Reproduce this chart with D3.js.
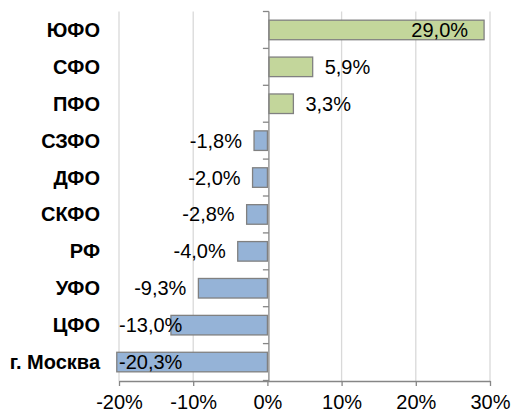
<!DOCTYPE html>
<html><head><meta charset="utf-8">
<script src="https://cdn.jsdelivr.net/npm/d3@7/dist/d3.min.js"></script>
<style>body{margin:0;background:#fff}svg{display:block}text{font-family:"Liberation Sans",Arial,sans-serif}</style>
</head><body><svg id="c" width="511" height="415"></svg>
<script>
const categories = ["ЮФО","СФО","ПФО","СЗФО","ДФО","СКФО","РФ","УФО","ЦФО","г. Москва"];
const values = [29.0, 5.9, 3.3, -1.8, -2.0, -2.8, -4.0, -9.3, -13.0, -20.3];
const tickValues = [-20, -10, 0, 10, 20, 30];
const tickLabels = ["-20%","-10%","0%","10%","20%","30%"];

const svg = d3.select("#c");
const x = d3.scaleLinear().domain([-20, 30]).range([119, 490]);
const y = d3.scaleBand().domain(categories).range([11.5, 380.5]).paddingInner(0.47).paddingOuter(0.235);
const fontSize = 20;
const fmt = v => v.toFixed(1).replace(".", ",") + "%";

// gridlines
svg.append("g").selectAll("line").data(tickValues.filter(v => v !== 0)).join("line")
  .attr("x1", d => x(d)).attr("x2", d => x(d)).attr("y1", 11.5).attr("y2", 381)
  .attr("stroke", "#d9d9d9").attr("stroke-width", 1.3);

// bars
svg.append("g").selectAll("rect").data(values).join("rect")
  .attr("x", d => x(Math.min(0, d)) + (d > 0 ? 1.5 : 0))
  .attr("width", d => Math.abs(x(d) - x(0)))
  .attr("y", (d, i) => y(categories[i]))
  .attr("height", y.bandwidth())
  .attr("fill", d => d >= 0 ? "#c3d69b" : "#95b3d7")
  .attr("stroke", "#808080").attr("stroke-width", 1.3);

// bottom axis
const xAxis = d3.axisBottom(x).tickValues(tickValues).tickFormat((d, i) => tickLabels[i]).tickSize(5).tickSizeOuter(0);
const gx = svg.append("g").attr("transform", "translate(0,381)").call(xAxis);
gx.select(".domain").attr("stroke", "#868686").attr("stroke-width", 1.3);
gx.selectAll(".tick line").attr("stroke", "#868686").attr("stroke-width", 1.3);
gx.selectAll(".tick text").attr("font-size", fontSize).attr("fill", "#000").attr("dy", "1.0em")
  .attr("font-family", '"Liberation Sans",Arial,sans-serif');

// vertical (category) axis at zero
const zx = x(0) + 1.5;
svg.append("line").attr("x1", zx).attr("x2", zx).attr("y1", 11.5).attr("y2", 381)
  .attr("stroke", "#868686").attr("stroke-width", 1.3);
const boundaries = d3.range(categories.length + 1).map(i => 11.5 + i * y.step());
svg.append("g").selectAll("line").data(boundaries).join("line")
  .attr("x1", zx - 6).attr("x2", zx).attr("y1", d => d).attr("y2", d => d)
  .attr("stroke", "#868686").attr("stroke-width", 1.3);

// category labels
svg.append("g").selectAll("text").data(categories).join("text")
  .attr("x", 100).attr("y", d => y(d) + y.bandwidth() / 2)
  .attr("dy", "0.35em").attr("text-anchor", "end")
  .attr("font-size", fontSize).attr("font-weight", "bold").attr("fill", "#000")
  .text(d => d);

// value labels
const gap = 12;
svg.append("g").selectAll("text").data(values).join("text")
  .attr("font-size", fontSize).attr("fill", "#000").attr("dy", "0.35em")
  .attr("y", (d, i) => y(categories[i]) + y.bandwidth() / 2)
  .text(d => fmt(d))
  .each(function(d) {
    const t = d3.select(this);
    const w = this.getComputedTextLength();
    if (d >= 0) {
      const end = x(d) + 1.5;
      if (end + gap + w > x(30)) { t.attr("x", end - 16).attr("text-anchor", "end"); }
      else { t.attr("x", end + gap).attr("text-anchor", "start"); }
    } else {
      let endX = x(d) - gap;
      if (endX - w < 119) { t.attr("x", 119).attr("text-anchor", "start"); }
      else { t.attr("x", endX).attr("text-anchor", "end"); }
    }
  });
</script></body></html>
